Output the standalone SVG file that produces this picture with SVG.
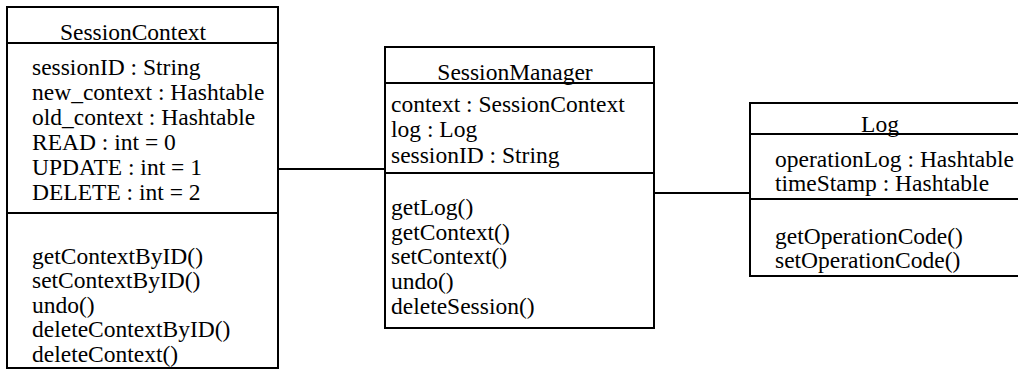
<svg xmlns="http://www.w3.org/2000/svg" width="1018" height="369" viewBox="0 0 1018 369">
<style>
.box{fill:#fff;stroke:#000;stroke-width:2}
.ln{stroke:#000;stroke-width:2;fill:none}
text{font-family:"Liberation Serif","Times New Roman",serif;font-size:23.5px;fill:#000}
.t{text-anchor:middle}
</style>
<g id="connectors">
<line class="ln" x1="270" y1="169" x2="390" y2="169"/>
<line class="ln" x1="654" y1="193" x2="750" y2="193"/>
</g>
<g id="SessionContext">
<rect class="box" x="7" y="7" width="271" height="361"/>
<line class="ln" x1="7" y1="43" x2="278" y2="43"/>
<line class="ln" x1="7" y1="213" x2="278" y2="213"/>
<text class="t" x="133" y="40">SessionContext</text>
<text x="32" y="75">sessionID : String</text>
<text x="32" y="100">new_context : Hashtable</text>
<text x="32" y="125">old_context : Hashtable</text>
<text x="32" y="150">READ : int = 0</text>
<text x="32" y="175">UPDATE : int = 1</text>
<text x="32" y="200">DELETE : int = 2</text>
<text x="32" y="264">getContextByID()</text>
<text x="32" y="288">setContextByID()</text>
<text x="32" y="313">undo()</text>
<text x="32" y="337">deleteContextByID()</text>
<text x="32" y="362">deleteContext()</text>
</g>
<g id="SessionManager">
<rect class="box" x="385" y="47" width="269" height="281"/>
<line class="ln" x1="385" y1="83" x2="654" y2="83"/>
<line class="ln" x1="385" y1="173" x2="654" y2="173"/>
<text class="t" x="515" y="80">SessionManager</text>
<text x="391" y="112">context : SessionContext</text>
<text x="391" y="137">log : Log</text>
<text x="391" y="163">sessionID : String</text>
<text x="391" y="215">getLog()</text>
<text x="391" y="240">getContext()</text>
<text x="391" y="264">setContext()</text>
<text x="391" y="289">undo()</text>
<text x="391" y="314">deleteSession()</text>
</g>
<g id="Log">
<rect class="box" x="750" y="103" width="272" height="173"/>
<line class="ln" x1="750" y1="134" x2="1022" y2="134"/>
<line class="ln" x1="750" y1="199" x2="1022" y2="199"/>
<text class="t" x="880" y="132">Log</text>
<text x="775" y="167">operationLog : Hashtable</text>
<text x="775" y="191">timeStamp : Hashtable</text>
<text x="775" y="244">getOperationCode()</text>
<text x="775" y="268">setOperationCode()</text>
</g>
</svg>
